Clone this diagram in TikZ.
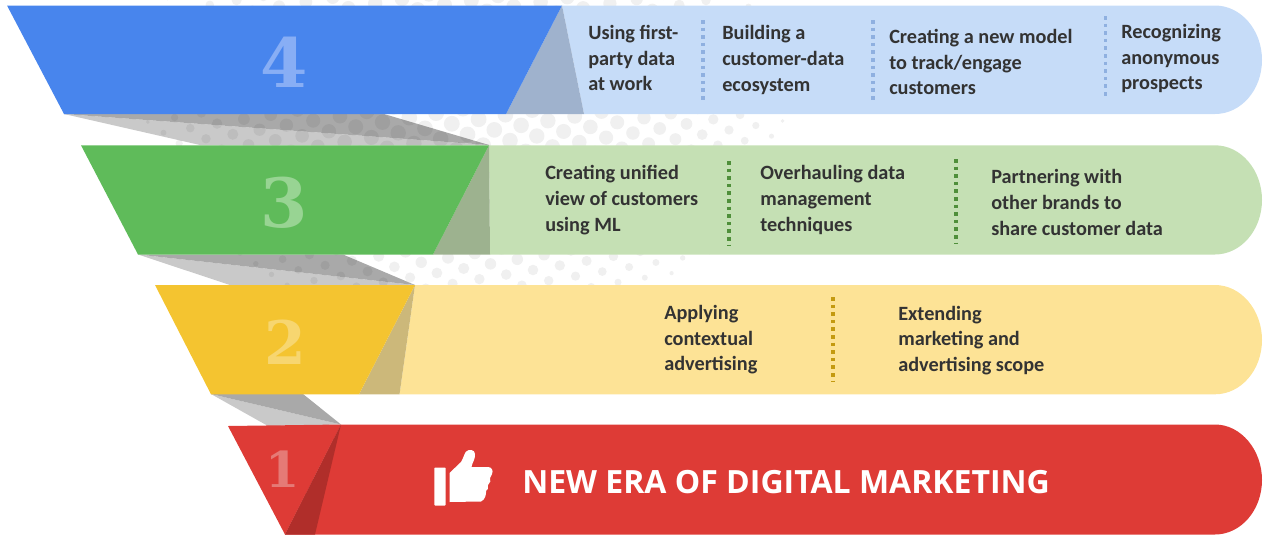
\documentclass[tikz,border=0pt]{standalone}
\usepackage{fontspec}
\setmainfont{Carlito}
\newfontfamily\titlefont{Open Sans}
\newfontfamily\numfont{DejaVu Serif}
\definecolor{blueA}{HTML}{4885ED}
\definecolor{blueB}{HTML}{C6DCF8}
\definecolor{blueC}{HTML}{9FB2CD}
\definecolor{blueD}{HTML}{8FB0E0}
\definecolor{blueN}{HTML}{88AEF5}
\definecolor{greenA}{HTML}{5FBB5A}
\definecolor{greenB}{HTML}{C5E0B4}
\definecolor{greenC}{HTML}{9DB28F}
\definecolor{greenD}{HTML}{4F8F3A}
\definecolor{greenN}{HTML}{98D493}
\definecolor{yelA}{HTML}{F4C430}
\definecolor{yelB}{HTML}{FDE396}
\definecolor{yelC}{HTML}{CCB87A}
\definecolor{yelD}{HTML}{C49A10}
\definecolor{yelN}{HTML}{F7D670}
\definecolor{redA}{HTML}{DE3B36}
\definecolor{redC}{HTML}{B02E2A}
\definecolor{redN}{HTML}{E57A76}
\definecolor{grayD}{HTML}{A9A9A9}
\definecolor{grayL}{HTML}{C9C9C9}
\definecolor{txt}{HTML}{333333}
\tikzset{
  bodytext/.style={anchor=west,align=left,inner sep=0pt,text=txt,font=\fontsize{15.2pt}{19.2pt}\selectfont\bfseries},
  numtext/.style={inner sep=0pt,font=\numfont\bfseries\fontsize{51pt}{51pt}\selectfont},
  divider/.style={line width=2.4pt,dash pattern=on 2.7pt off 3pt},
}
\begin{document}
\begin{tikzpicture}[x=0.75pt,y=-0.75pt]
\useasboundingbox (0,0) rectangle (1268,536);
\clip (0,0) rectangle (1268,536);
% folded grey ribbons
\fill[grayL] (64,114) -- (489,145) -- (200,145) -- cycle;
\fill[grayD] (64,114) -- (384,114) -- (489,145) -- cycle;
\fill[grayL] (138,254.5) -- (415,285) -- (230,285) -- cycle;
\fill[grayD] (138,254.5) -- (343,254.5) -- (415,285) -- cycle;
\fill[grayL] (211,394) -- (341,424.5) -- (268,426) -- cycle;
\fill[grayD] (211,394) -- (303,394) -- (341,424.5) -- cycle;
% halftone dots
\foreach \i in {-24,...,18}{
  \foreach \j in {-30,...,4}{
    \pgfmathsetmacro{\px}{533+26.8*\i+15.7*\j}
    \pgfmathsetmacro{\py}{270-4.55*\i+10.67*\j}
    \pgfmathsetmacro{\q}{1-((\px-465)/330)^2-((\py-90)/250)^2}
    \pgfmathparse{(\q>0.002 && \py>-12 && \py<300) ? 1 : 0}
    \ifnum\pgfmathresult=1
      \pgfmathsetmacro{\rr}{6*sqrt(\q)}
      \fill[black,opacity=0.06] (\px,\py) circle[radius=\rr pt];
    \fi
  }
}
% row 4
\fill[blueB] (562,5.5) -- (1215,5.5) .. controls (1241,5.5) and (1262,30) .. (1262,60) .. controls (1262,90) and (1241,114) .. (1215,114) -- (584,114) -- cycle;
\fill[blueC] (562,5.5) -- (506,114) -- (584,114) -- cycle;
\fill[blueA] (7,5.5) -- (562,5.5) -- (506,114) -- (64,114) -- cycle;
% row 3
\fill[greenB] (489,145.3) -- (1215,145.3) .. controls (1241,145.3) and (1262,170) .. (1262,200) .. controls (1262,230) and (1241,254.5) .. (1215,254.5) -- (490,254.5) -- cycle;
\fill[greenC] (489,145.3) -- (433,254.5) -- (490,254.5) -- cycle;
\fill[greenA] (81,145.3) -- (489,145.3) -- (433,254.5) -- (138,254.5) -- cycle;
% row 2
\fill[yelB] (415,285) -- (1215,285) .. controls (1241,285) and (1262,310) .. (1262,340) .. controls (1262,370) and (1241,394.3) .. (1215,394.3) -- (399.5,394.3) -- cycle;
\fill[yelC] (415,285) -- (359,394.3) -- (399.5,394.3) -- cycle;
\fill[yelA] (155,285) -- (415,285) -- (359,394.3) -- (211,394.3) -- cycle;
% row 1
\fill[redA] (341,424.5) -- (1215,424.5) .. controls (1241,424.5) and (1262,450) .. (1262,480) .. controls (1262,510) and (1241,534.5) .. (1215,534.5) -- (285,534.5) -- cycle;
\fill[redA] (228,426) -- (341,424.5) -- (285,534.5) -- cycle;
\fill[redC] (341,424.5) -- (285,534.5) -- (315,534.5) -- cycle;
% numbers
\node[numtext,text=blueN] (n4) at (284,62) {4};
\node[numtext,text=greenN] (n3) at (284,202.5) {3};
\node[numtext,text=yelN,font=\numfont\bfseries\fontsize{45pt}{45pt}\selectfont] (n2) at (285,342) {2};
\node[numtext,text=redN,font=\numfont\bfseries\fontsize{37pt}{37pt}\selectfont] (n1) at (283,469) {1};
% dividers
\draw[divider,blueD] (703,20) coordinate (d1a) -- (703,103) coordinate (d1b);
\draw[divider,blueD] (873,20) coordinate (d2a) -- (873,103) coordinate (d2b);
\draw[divider,blueD] (1105.5,16) coordinate (d3a) -- (1105.5,99) coordinate (d3b);
\draw[divider,greenD] (729,161) coordinate (d4a) -- (729,245) coordinate (d4b);
\draw[divider,greenD] (956,159) coordinate (d5a) -- (956,243) coordinate (d5b);
\draw[divider,yelD] (833,297) coordinate (d6a) -- (833,382) coordinate (d6b);
% texts
\node[bodytext] (t41) at (588,58) {Using first-\\party data\\at work};
\node[bodytext] (t42) at (722,60) {Building a\\customer-data\\ecosystem};
\node[bodytext] (t43) at (889,62) {Creating a new model\\to track/engage\\customers};
\node[bodytext] (t44) at (1121,58.5) {Recognizing\\anonymous\\prospects};
\node[bodytext] (t31) at (545,200) {Creating unified\\view of customers\\using ML};
\node[bodytext] (t32) at (760,200) {Overhauling data\\management\\techniques};
\node[bodytext] (t33) at (991,202.5) {Partnering with\\other brands to\\share customer data};
\node[bodytext] (t21) at (664,340) {Applying\\contextual\\advertising};
\node[bodytext] (t22) at (898,340.5) {Extending\\marketing and\\advertising scope};
\node[anchor=west,inner sep=0pt,text=white,font=\titlefont\bfseries\fontsize{24pt}{24pt}\selectfont] (t1) at (522,482) {NEW ERA OF DIGITAL MARKETING};
% thumb icon
\fill[white,rounded corners=0.6pt] (434.3,467.5) rectangle (445.7,505.5);
\fill[white] (449.5,473) -- (461,462) .. controls (464,457) and (465,451) .. (467,451)
  .. controls (468,449.5) and (475,449) .. (475,454) .. controls (475.5,459) and (472,463) .. (471.5,467)
  -- (488,467) .. controls (492,467) and (493.5,471) .. (492,474) .. controls (491.5,476) and (490,477) .. (490,478)
  .. controls (491,480) and (490.5,483) .. (488,485) .. controls (489,488) and (487.5,490) .. (486,491)
  .. controls (486.5,494) and (485,500) .. (481,501.5) -- (449.5,502) -- cycle;
\end{tikzpicture}
\end{document}
